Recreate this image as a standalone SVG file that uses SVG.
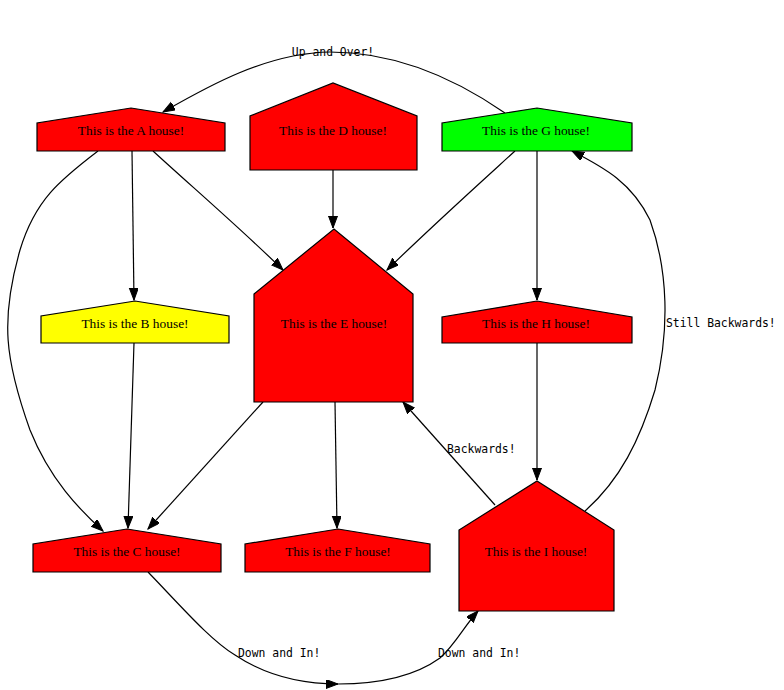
<svg xmlns="http://www.w3.org/2000/svg" width="784" height="690" viewBox="0 0 784 690">
<style>
.house{stroke:#000;stroke-width:1.2}
.red{fill:#ff0000}
.green{fill:#00ff00}
.yellow{fill:#ffff00}
.nt{font-family:"Liberation Serif","Times New Roman",serif;font-size:13.4px;text-anchor:middle;fill:#000}
.el{font-family:"DejaVu Sans Mono",monospace;font-size:11.4px;fill:#000}
.edge{fill:none;stroke:#000;stroke-width:1.2;marker-end:url(#arr)}
</style>
<defs>
<marker id="arr" markerUnits="userSpaceOnUse" markerWidth="14" markerHeight="12" refX="12" refY="4.5" orient="auto">
<path d="M0,0 L12,4.5 L0,9 Z" fill="#000" stroke="#000" stroke-width="1"/>
</marker>
</defs>
<rect width="784" height="690" fill="#fff"/>
<g id="edges">
<path class="edge" d="M132,151 L134,300"/>
<path class="edge" d="M98,151 C60,180 35,200 20,250 C0,320 5,360 30,430 C50,480 80,510 103,531"/>
<path class="edge" d="M153,151 C190,185 240,228 283,270"/>
<path class="edge" d="M333,170 L333,228"/>
<path class="edge" d="M515,151 C470,192 430,228 387,270"/>
<path class="edge" d="M537,151 L537,300"/>
<path class="edge" d="M505,113 C450,75 390,52 330,52 C265,53 205,88 163,112"/>
<path class="edge" d="M134,343 L128,528"/>
<path class="edge" d="M263,402 L148,529"/>
<path class="edge" d="M335,402 L337,528"/>
<path class="edge" d="M537,343 L537,480"/>
<path class="edge" d="M495,505 L403,402"/>
<path class="edge" d="M585,511 C620,480 640,440 655,390 C670,330 668,270 650,220 C632,183 605,168 572,151"/>
<path class="edge" d="M148,572 C180,605 210,640 235,655 C265,675 300,684 338,684"/>
<path class="edge" d="M338,684 C380,684 415,676 440,658 C455,645 465,625 478,611"/>
<text class="el" x="333" y="56" text-anchor="middle">Up and Over!</text>
<text class="el" x="666" y="327">Still Backwards!</text>
<text class="el" x="447" y="453">Backwards!</text>
<text class="el" x="238" y="657">Down and In!</text>
<text class="el" x="438" y="657">Down and In!</text>
</g>
<g id="A"><polygon class="house red" points="37,151 225,151 225,123 131,108 37,123"/><text class="nt" x="131" y="135">This is the A house!</text></g>
<g id="D"><polygon class="house red" points="250,170 417,170 417,116 333,83 250,116"/><text class="nt" x="333" y="135">This is the D house!</text></g>
<g id="G"><polygon class="house green" points="442,151 632,151 632,123 537,108 442,123"/><text class="nt" x="536" y="135">This is the G house!</text></g>
<g id="B"><polygon class="house yellow" points="41,343 229,343 229,316 135,301 41,316"/><text class="nt" x="135" y="328">This is the B house!</text></g>
<g id="E"><polygon class="house red" points="254,402 413,402 413,294 334,229 254,294"/><text class="nt" x="334" y="328">This is the E house!</text></g>
<g id="H"><polygon class="house red" points="442,343 632,343 632,317 537,301 442,317"/><text class="nt" x="536" y="328">This is the H house!</text></g>
<g id="C"><polygon class="house red" points="33,572 221,572 221,544 127,529 33,544"/><text class="nt" x="127" y="556">This is the C house!</text></g>
<g id="F"><polygon class="house red" points="245,572 430,572 430,544 338,529 245,544"/><text class="nt" x="338" y="556">This is the F house!</text></g>
<g id="I"><polygon class="house red" points="459,611 614,611 614,530 537,481 459,530"/><text class="nt" x="536" y="556">This is the I house!</text></g>
</svg>
